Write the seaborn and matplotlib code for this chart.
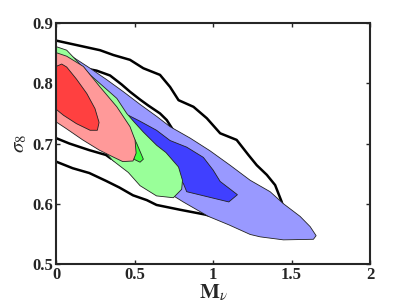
import numpy as np
import pandas as pd
import matplotlib
matplotlib.use("Agg")
import matplotlib.pyplot as plt
import seaborn as sns

# contour outlines (M_nu, sigma_8)
blue_outer_x = [0.07, 0.217, 0.323, 0.429, 0.535, 0.641, 0.726, 0.854, 0.98, 1.108, 1.236, 1.363, 1.448, 1.554, 1.618, 1.656, 1.639, 1.448, 1.30, 1.236, 1.10, 0.97, 0.81, 0.60, 0.51, 0.425, 0.36, 0.30, 0.17, 0.05, 0.03]
blue_outer_y = [0.850, 0.825, 0.806, 0.786, 0.765, 0.745, 0.728, 0.709, 0.688, 0.664, 0.639, 0.620, 0.600, 0.579, 0.562, 0.547, 0.541, 0.540, 0.545, 0.549, 0.565, 0.579, 0.603, 0.637, 0.656, 0.664, 0.672, 0.695, 0.715, 0.74, 0.84]

blue_inner_x = [0.46, 0.535, 0.64, 0.726, 0.832, 0.938, 1.0, 1.045, 1.155, 1.10, 0.832, 0.81, 0.78, 0.70, 0.55]
blue_inner_y = [0.747, 0.737, 0.722, 0.705, 0.694, 0.677, 0.656, 0.637, 0.615, 0.603, 0.620, 0.634, 0.64, 0.665, 0.71]

green_outer_x = [0.0, 0.068, 0.217, 0.30, 0.387, 0.45, 0.50, 0.556, 0.641, 0.70, 0.78, 0.805, 0.80, 0.747, 0.64, 0.535, 0.46, 0.36, 0.28, 0.17, 0.06, 0.0]
green_outer_y = [0.861, 0.855, 0.814, 0.795, 0.775, 0.750, 0.735, 0.719, 0.697, 0.685, 0.661, 0.639, 0.624, 0.610, 0.613, 0.630, 0.652, 0.672, 0.695, 0.712, 0.731, 0.742]

green_inner_x = [0.20, 0.30, 0.45, 0.514, 0.556, 0.535, 0.503, 0.40, 0.20]
green_inner_y = [0.80, 0.775, 0.733, 0.700, 0.674, 0.669, 0.673, 0.70, 0.76]

red_outer_x = [0.0, 0.068, 0.174, 0.28, 0.387, 0.471, 0.503, 0.51, 0.49, 0.425, 0.361, 0.276, 0.17, 0.064, 0.0]
red_outer_y = [0.851, 0.845, 0.828, 0.794, 0.761, 0.728, 0.706, 0.684, 0.671, 0.670, 0.678, 0.689, 0.706, 0.725, 0.736]

red_inner_x = [0.0, 0.036, 0.068, 0.13, 0.196, 0.248, 0.274, 0.263, 0.217, 0.13, 0.047, 0.0]
red_inner_y = [0.828, 0.832, 0.827, 0.807, 0.783, 0.758, 0.735, 0.722, 0.722, 0.733, 0.747, 0.757]

black_outer_x = [0.0, 0.28, 0.365, 0.471, 0.556, 0.662, 0.726, 0.78, 0.875, 0.96, 1.045, 1.15, 1.225, 1.278, 1.342, 1.395, 1.437, 1.45, 1.42, 1.30, 1.10, 0.98, 0.95, 0.79, 0.64, 0.578, 0.49, 0.403, 0.318, 0.212, 0.106, 0.0]
black_outer_y = [0.871, 0.855, 0.847, 0.839, 0.825, 0.814, 0.794, 0.772, 0.761, 0.742, 0.717, 0.706, 0.681, 0.664, 0.648, 0.631, 0.603, 0.590, 0.575, 0.565, 0.580, 0.580, 0.582, 0.590, 0.598, 0.606, 0.614, 0.627, 0.638, 0.651, 0.659, 0.670]

black_inner_x = [0.0, 0.10, 0.20, 0.259, 0.344, 0.418, 0.471, 0.535, 0.588, 0.662, 0.705, 0.80, 0.95, 0.80, 0.60, 0.50, 0.40, 0.35, 0.318, 0.212, 0.085, 0.0]
black_inner_y = [0.845, 0.838, 0.824, 0.821, 0.813, 0.798, 0.786, 0.773, 0.763, 0.750, 0.739, 0.700, 0.670, 0.640, 0.652, 0.662, 0.672, 0.675, 0.681, 0.689, 0.700, 0.709]

x_ticks = [0, 0.5, 1, 1.5, 2]
x_ticklabels = ["0", "0.5", "1", "1.5", "2"]
y_ticks = [0.5, 0.6, 0.7, 0.8, 0.9]
y_ticklabels = ["0.5", "0.6", "0.7", "0.8", "0.9"]

sns.set_style("ticks")
plt.rcParams["font.family"] = ["Liberation Serif", "DejaVu Serif"]
plt.rcParams["mathtext.fontset"] = "stix"
plt.rcParams["xtick.direction"] = "in"
plt.rcParams["ytick.direction"] = "in"

fig = plt.figure(figsize=(4.09, 3.08), dpi=100)
ax = fig.add_axes([0.137, 0.143, 0.768, 0.782])

# black line contours sit underneath the filled ones
for xs, ys in [(black_outer_x, black_outer_y), (black_inner_x, black_inner_y)]:
    d = pd.DataFrame({"x": xs, "y": ys})
    sns.lineplot(data=d, x="x", y="y", sort=False, estimator=None, color="black", lw=1.8, ax=ax, zorder=1)

fills = [
    (blue_outer_x, blue_outer_y, "#9999ff"),
    (blue_inner_x, blue_inner_y, "#4040ff"),
    (green_outer_x, green_outer_y, "#99ff99"),
    (green_inner_x, green_inner_y, "#40ff40"),
    (red_outer_x, red_outer_y, "#ff9999"),
    (red_inner_x, red_inner_y, "#ff4040"),
]
for i, (xs, ys, c) in enumerate(fills):
    ax.fill(xs, ys, facecolor=c, edgecolor="#222222", lw=0.6, zorder=3 + i)

ax.set_xlim(0, 2)
ax.set_ylim(0.5, 0.9)
ax.set_xticks(x_ticks)
ax.set_xticklabels(x_ticklabels)
ax.set_yticks(y_ticks)
ax.set_yticklabels(y_ticklabels)
ax.tick_params(top=True, right=True, length=3, width=1, labelsize=12, pad=2)
for lab in ax.get_xticklabels() + ax.get_yticklabels():
    lab.set_fontweight("bold")
for s in ax.spines.values():
    s.set_linewidth(1.5)
    s.set_zorder(20)

ax.set_xlabel(r"$\mathbf{M}_{\nu}$", fontsize=15, labelpad=0)
ax.set_ylabel(r"$\sigma_8$", fontsize=15, labelpad=2)

fig.savefig("out.png", dpi=100)
